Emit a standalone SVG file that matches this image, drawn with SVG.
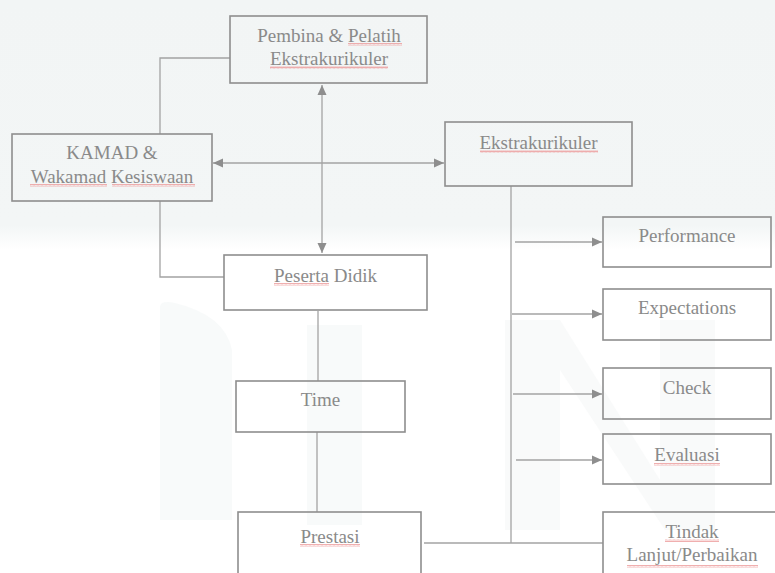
<svg xmlns="http://www.w3.org/2000/svg" width="775" height="573" viewBox="0 0 775 573">
<style>
.box{fill:none;stroke:#8e8e8e;stroke-width:1.6}
.t{font-family:"Liberation Serif","Times New Roman",serif;font-size:19px;fill:#8a8a8a;text-anchor:middle}
.c{fill:none;stroke:#a3a3a3;stroke-width:1.3}
.wm{fill:#f3f6f6}
.sq{fill:url(#wave)}
</style>
<defs>
<marker id="ah" viewBox="0 0 10 10" refX="10" refY="5" markerWidth="10" markerHeight="10" markerUnits="userSpaceOnUse" orient="auto-start-reverse">
<path d="M0,0.5 L10,5 L0,9.5 z" fill="#8e8e8e"/>
</marker>
<pattern id="wave" width="4" height="3" patternUnits="userSpaceOnUse">
<path d="M0,2.5 L1,0.5 L2,2.5 L3,0.5 L4,2.5" fill="none" stroke="#ec9a9a" stroke-width="0.8"/>
</pattern>
<linearGradient id="band" x1="0" y1="0" x2="0" y2="1">
<stop offset="0" stop-color="#f2f5f5"/>
<stop offset="0.9" stop-color="#f3f6f6"/>
<stop offset="1" stop-color="#ffffff"/>
</linearGradient>
</defs>
<rect width="775" height="573" fill="#ffffff"/>
<g id="watermark">
<rect x="0" y="0" width="775" height="250" fill="url(#band)"/>
<path class="wm" d="M160,307 Q160,300 175,303 Q225,315 232,350 L232,520 L160,520 z" opacity="0.6"/>
<rect class="wm" x="307" y="325" width="55" height="200" opacity="0.6"/>
<path class="wm" d="M505,320 L560,320 L660,480 L660,320 L715,320 L715,530 L665,530 L560,370 L560,530 L505,530 z" opacity="0.5"/>
</g>
<g id="connectors">
<polyline class="c" points="230,58 160,58 160,134"/>
<polyline class="c" points="160,201 160,277 224,277"/>
<line class="c" x1="322" y1="85" x2="322" y2="253" marker-start="url(#ah)" marker-end="url(#ah)"/>
<line class="c" x1="213" y1="163" x2="444" y2="163" marker-start="url(#ah)" marker-end="url(#ah)"/>
<line class="c" x1="318" y1="311" x2="318" y2="381"/>
<line class="c" x1="317" y1="432" x2="317" y2="512"/>
<line class="c" x1="511" y1="186" x2="511" y2="543"/>
<line class="c" x1="424" y1="543" x2="603" y2="543"/>
<line class="c" x1="515" y1="242" x2="602" y2="242" marker-end="url(#ah)"/>
<line class="c" x1="512" y1="314" x2="602" y2="314" marker-end="url(#ah)"/>
<line class="c" x1="513" y1="394" x2="602" y2="394" marker-end="url(#ah)"/>
<line class="c" x1="516" y1="460" x2="602" y2="460" marker-end="url(#ah)"/>
</g>
<g id="pembina">
<rect class="box" x="230" y="16" width="197" height="67"/>
<text class="t" x="329" y="42">Pembina &amp; Pelatih</text>
<text class="t" x="329" y="65">Ekstrakurikuler</text>
<rect class="sq" x="348" y="43" width="54" height="3"/>
<rect class="sq" x="270" y="66" width="118" height="3"/>
</g>
<g id="kamad">
<rect class="box" x="12" y="134" width="200" height="67"/>
<text class="t" x="112" y="159">KAMAD &amp;</text>
<text class="t" x="112" y="183">Wakamad Kesiswaan</text>
<rect class="sq" x="30" y="184" width="77" height="3"/>
<rect class="sq" x="112" y="184" width="83" height="3"/>
</g>
<g id="ekstrakurikuler">
<rect class="box" x="445" y="122" width="187" height="64"/>
<text class="t" x="538.5" y="149">Ekstrakurikuler</text>
<rect class="sq" x="480" y="150" width="118" height="3"/>
</g>
<g id="peserta">
<rect class="box" x="224" y="255" width="203" height="55"/>
<text class="t" x="325.5" y="282">Peserta Didik</text>
<rect class="sq" x="274" y="283" width="55" height="3"/>
</g>
<g id="time">
<rect class="box" x="236" y="381" width="169" height="51"/>
<text class="t" x="320.5" y="406">Time</text>
</g>
<g id="prestasi">
<rect class="box" x="238" y="512" width="183" height="70"/>
<text class="t" x="330" y="543">Prestasi</text>
<rect class="sq" x="300" y="544" width="60" height="3"/>
</g>
<g id="performance">
<rect class="box" x="603" y="217" width="168" height="50"/>
<text class="t" x="687" y="242">Performance</text>
</g>
<g id="expectations">
<rect class="box" x="603" y="289" width="168" height="51"/>
<text class="t" x="687" y="314">Expectations</text>
</g>
<g id="check">
<rect class="box" x="603" y="368" width="168" height="51"/>
<text class="t" x="687" y="394">Check</text>
</g>
<g id="evaluasi">
<rect class="box" x="603" y="434" width="168" height="50"/>
<text class="t" x="687" y="461">Evaluasi</text>
<rect class="sq" x="654" y="463" width="66" height="3"/>
</g>
<g id="tindak">
<rect class="box" x="603" y="512" width="180" height="70"/>
<text class="t" x="692" y="538">Tindak</text>
<text class="t" x="692" y="561">Lanjut/Perbaikan</text>
<rect class="sq" x="665" y="539" width="54" height="3"/>
<rect class="sq" x="627" y="565" width="131" height="3"/>
</g>
</svg>
